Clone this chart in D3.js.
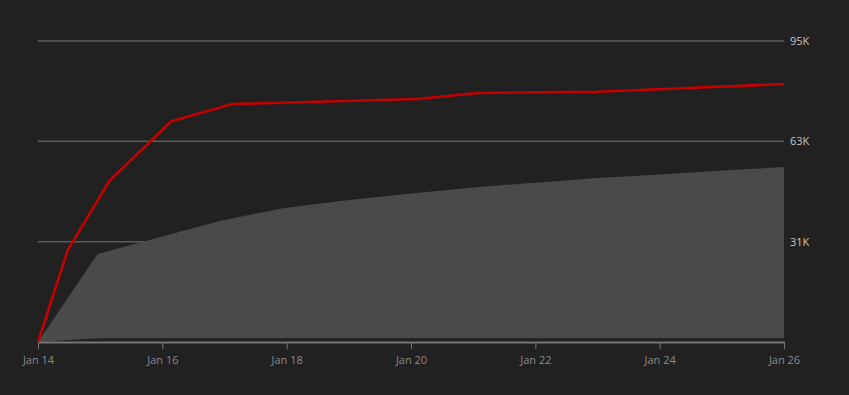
<!DOCTYPE html>
<html>
<head>
<meta charset="utf-8">
<script src="https://cdn.jsdelivr.net/npm/d3@7"></script>
<style>
  html, body { margin: 0; padding: 0; background: #212121; }
  svg { display: block; }
  text { font-family: "Open Sans", "Noto Sans", sans-serif; }
</style>
</head>
<body>
<svg id="chart" width="849" height="395"></svg>
<script>
// ---- data ----
const lineDates = ["2024-01-14T00:00", "2024-01-14T11:30", "2024-01-15T03:30", "2024-01-16T03:30", "2024-01-17T03:00",
                   "2024-01-20T02:30", "2024-01-21T02:00", "2024-01-23T00:00", "2024-01-26T00:00"];
const lineValues = [0, 29000, 50800, 69700, 75100, 76700, 78600, 79000, 81400];

const bandDates = ["2024-01-14T00:00", "2024-01-14T23:00", "2024-01-16T22:30", "2024-01-17T22:30", "2024-01-19T00:00",
                   "2024-01-20T00:00", "2024-01-21T00:00", "2024-01-22T00:00", "2024-01-23T00:00",
                   "2024-01-24T00:00", "2024-01-25T00:00", "2024-01-26T00:00"];
const bandUpper = [0, 27800, 38300, 42200, 44800, 46900, 48800, 50300, 51800, 52900, 54100, 55200];
const bandLower = [0, 1200, 1200, 1200, 1200, 1200, 1200, 1200, 1200, 1200, 1200, 1200];

const xTickDates = ["2024-01-14", "2024-01-16", "2024-01-18", "2024-01-20", "2024-01-22", "2024-01-24", "2024-01-26"];
const yTickValues = [95000 / 3, 95000 * 2 / 3, 95000];
const yTickLabels = ["31K", "63K", "95K"];

// ---- layout ----
const svg = d3.select("#chart");
const parse = d3.timeParse("%Y-%m-%dT%H:%M");
const parseDay = d3.timeParse("%Y-%m-%d");

const x = d3.scaleTime()
  .domain([parseDay("2024-01-14"), parseDay("2024-01-26")])
  .range([38, 784]);
const y = d3.scaleLinear().domain([0, 95000]).range([342, 41]);

// grid lines
const grid = svg.append("g");
yTickValues.forEach((v, i) => {
  grid.append("line")
    .attr("x1", x.range()[0]).attr("x2", x.range()[1])
    .attr("y1", y(v)).attr("y2", y(v))
    .attr("stroke", "#5c5c5c").attr("stroke-width", 1.5);
  grid.append("text")
    .attr("x", 790).attr("y", y(v))
    .attr("dy", "0.35em")
    .attr("fill", "#c4c4c4")
    .attr("font-size", 11)
    .text(yTickLabels[i]);
});

// band area
const band = bandDates.map((d, i) => ({ t: parse(d), lo: bandLower[i], hi: bandUpper[i] }));
svg.append("path")
  .datum(band)
  .attr("fill", "#4a4a4a")
  .attr("d", d3.area().x(d => x(d.t)).y0(d => y(d.lo)).y1(d => y(d.hi)));

// x axis
const xAxis = d3.axisBottom(x)
  .tickValues(xTickDates.map(parseDay))
  .tickFormat(d3.timeFormat("%b %d"))
  .tickSize(7)
  .tickSizeOuter(0);
const gx = svg.append("g").attr("transform", `translate(0,${y(0)})`).call(xAxis);
gx.select(".domain").attr("stroke", "#777").attr("stroke-width", 2);
gx.selectAll(".tick line").attr("stroke", "#777");
gx.selectAll(".tick text").attr("fill", "#8a8a8a").attr("font-size", 11)
  .attr("font-family", "'Open Sans', 'Noto Sans', sans-serif").attr("dy", "1.05em");

// red line
const pts = lineDates.map((d, i) => ({ t: parse(d), v: lineValues[i] }));
svg.append("path")
  .datum(pts)
  .attr("fill", "none")
  .attr("stroke", "#c40000")
  .attr("stroke-width", 2.6)
  .attr("stroke-linejoin", "round")
  .attr("d", d3.line().x(d => x(d.t)).y(d => y(d.v)));
</script>
</body>
</html>
